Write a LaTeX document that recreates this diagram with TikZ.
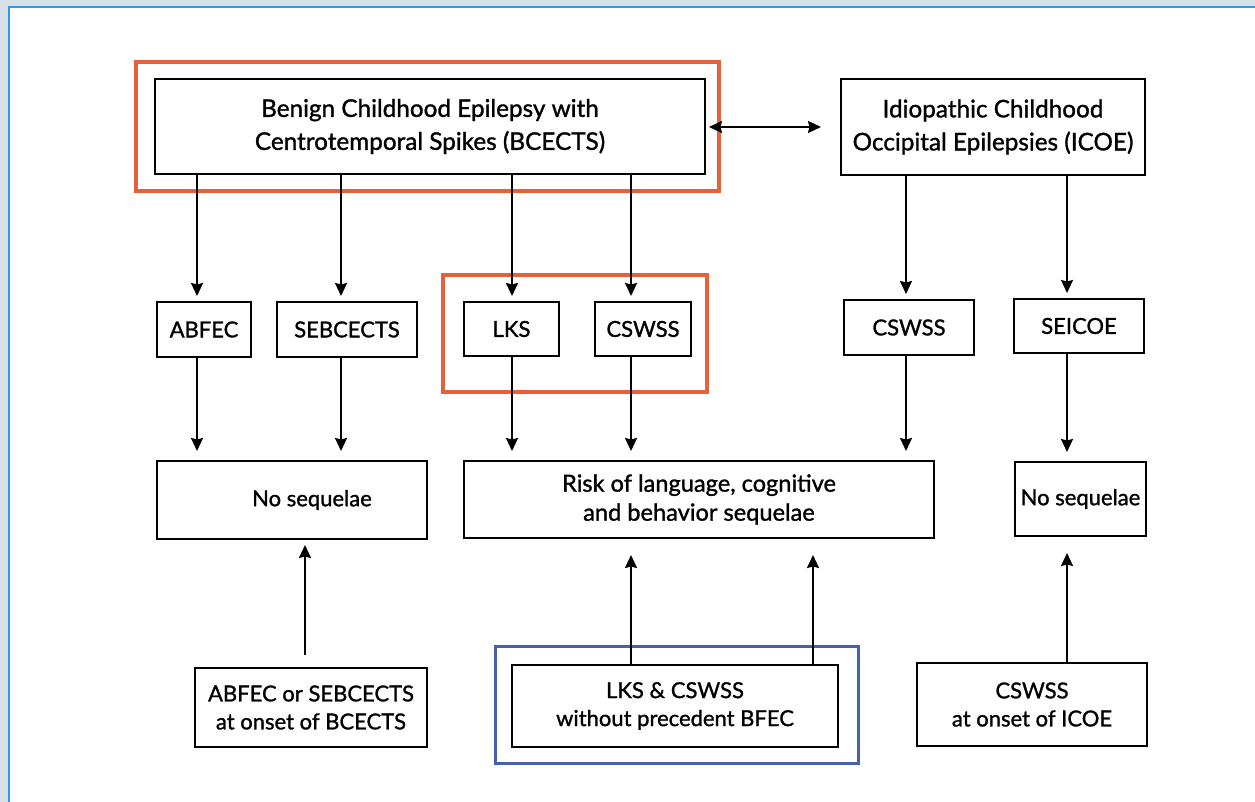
\documentclass[tikz,border=0pt]{standalone}
\usepackage{fontspec}
\setmainfont{Lato}[BoldFont=Lato, BoldFeatures={FakeBold=1.2}]
\usetikzlibrary{arrows.meta}
\definecolor{framegray}{HTML}{D7DFE7}
\definecolor{frameblue}{HTML}{2A9BE6}
\definecolor{hiorange}{HTML}{E8603A}
\definecolor{hiblue}{HTML}{4560AE}
\tikzset{
  box/.style={draw=black, line width=2pt, inner sep=0pt, align=center, fill=white},
  bigtxt/.style={font=\fontsize{24.3}{33}\selectfont\bfseries},
  smalltxt/.style={font=\fontsize{22}{28}\selectfont\bfseries},
  midtxt/.style={font=\fontsize{23.6}{29}\selectfont\bfseries},
  arr/.style={line width=2pt, -{Stealth[length=13pt,width=12pt,inset=1.5pt]}},
  dblarr/.style={line width=2pt, {Stealth[length=13pt,width=12pt,inset=1.5pt]}-{Stealth[length=13pt,width=12pt,inset=1.5pt]}},
  orangeframe/.style={draw=hiorange, line width=3.5pt},
  blueframe/.style={draw=hiblue, line width=3pt}
}
\begin{document}
\begin{tikzpicture}[x=1pt,y=-1pt]
\useasboundingbox (0,0) rectangle (1255,802);
% page frame
\fill[framegray] (0,0) rectangle (1255,802);
\fill[white] (9,7.5) rectangle (1255,802);
\draw[frameblue, line width=2pt] (9,802) -- (9,7.5) -- (1255,7.5);

% highlight frames
\draw[orangeframe] (136,62) rectangle (719,191);
\draw[orangeframe] (443,275) rectangle (707,392);
\draw[blueframe] (495,646) rectangle (858,763);

% top row
\node[box, bigtxt, minimum width=550pt, minimum height=95pt] (bcects) at (430,126.5)
  {Benign Childhood Epilepsy with\\Centrotemporal Spikes (BCECTS)};
\node[box, bigtxt, minimum width=304pt, minimum height=96pt] (icoe) at (993,127)
  {Idiopathic Childhood\\Occipital Epilepsies (ICOE)};

% second row
\node[box, smalltxt, minimum width=94pt, minimum height=55pt] (abfec) at (204,329.5) {ABFEC};
\node[box, smalltxt, minimum width=140pt, minimum height=55pt] (sebc) at (347,329.5) {SEBCECTS};
\node[box, smalltxt, minimum width=95pt, minimum height=54pt] (lks) at (511.5,329) {LKS};
\node[box, smalltxt, minimum width=96pt, minimum height=54pt] (cswssa) at (643,329) {CSWSS};
\node[box, smalltxt, minimum width=130pt, minimum height=55pt] (cswssb) at (909,327.5) {CSWSS};
\node[box, smalltxt, minimum width=130pt, minimum height=54pt] (seicoe) at (1079,326) {SEICOE};

% third row
\node[box, smalltxt, minimum width=270pt, minimum height=78pt] (noseqa) at (292,500)
  {\hspace*{40pt}No sequelae};
\node[box, midtxt, minimum width=470pt, minimum height=77pt] (risk) at (699,499.5)
  {Risk of language, cognitive\\and behavior sequelae};
\node[box, smalltxt, minimum width=131pt, minimum height=74pt] (noseqb) at (1080.5,499)
  {No sequelae};

% bottom row
\node[box, smalltxt, minimum width=232pt, minimum height=79pt] (onsetb) at (311,707.5)
  {ABFEC or SEBCECTS\\at onset of BCECTS};
\node[box, smalltxt, minimum width=326pt, minimum height=82pt] (lkscs) at (675,706)
  {LKS \& CSWSS\\without precedent BFEC};
\node[box, smalltxt, minimum width=230pt, minimum height=83pt] (onseti) at (1032,704.5)
  {CSWSS\\at onset of ICOE};

% column positions of the connectors
\coordinate (c1) at (197,0);
\coordinate (c2) at (341,0);
\coordinate (c3) at (512,0);
\coordinate (c4) at (631,0);
\coordinate (c5) at (906,0);
\coordinate (c6) at (1067,0);
\coordinate (c8) at (813,0);
\coordinate (s1) at (305,655);
\coordinate (dy) at (0,127);

% double arrow
\draw[dblarr] ([xshift=3pt]bcects.east |- dy) -- ([xshift=-19pt]icoe.west);

% top to second row
\draw[arr, shorten >=5pt] (bcects.south -| c1) -- (abfec.north -| c1);
\draw[arr, shorten >=5pt] (bcects.south -| c2) -- (sebc.north -| c2);
\draw[arr, shorten >=5pt] (bcects.south -| c3) -- (lks.north -| c3);
\draw[arr, shorten >=5pt] (bcects.south -| c4) -- (cswssa.north -| c4);
\draw[arr, shorten >=5pt] (icoe.south -| c5) -- (cswssb.north -| c5);
\draw[arr, shorten >=5pt] (icoe.south -| c6) -- (seicoe.north -| c6);

% second to third row
\draw[arr, shorten >=9pt] (abfec.south -| c1) -- (noseqa.north -| c1);
\draw[arr, shorten >=9pt] (sebc.south -| c2) -- (noseqa.north -| c2);
\draw[arr, shorten >=9pt] (lks.south -| c3) -- (risk.north -| c3);
\draw[arr, shorten >=9pt] (cswssa.south -| c4) -- (risk.north -| c4);
\draw[arr, shorten >=9pt] (cswssb.south -| c5) -- (risk.north -| c5);
\draw[arr, shorten >=9pt] (seicoe.south -| c6) -- (noseqb.north -| c6);

% bottom row up
\draw[arr, shorten >=5pt] (s1) -- (noseqa.south -| s1);
\draw[arr, shorten >=16pt] (lkscs.north -| c4) -- (risk.south -| c4);
\draw[arr, shorten >=16pt] (lkscs.north -| c8) -- (risk.south -| c8);
\draw[arr, shorten >=16pt] (onseti.north -| c6) -- (noseqb.south -| c6);
\end{tikzpicture}
\end{document}
